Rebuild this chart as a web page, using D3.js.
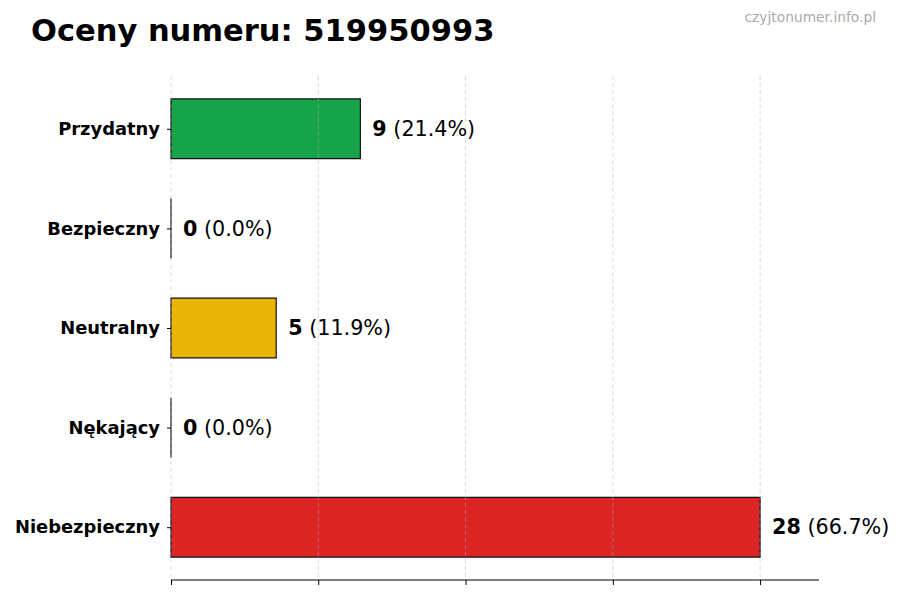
<!DOCTYPE html>
<html>
<head>
<meta charset="utf-8">
<script src="https://cdn.jsdelivr.net/npm/d3@7"></script>
<style>
  body { margin: 0; background: #fff; }
  text { font-family: "DejaVu Sans", sans-serif; }
</style>
</head>
<body>
<svg id="chart" width="900" height="600"></svg>
<script>
// data
const categories = ['Przydatny', 'Bezpieczny', 'Neutralny', 'Nękający', 'Niebezpieczny'];
const counts = [9, 0, 5, 0, 28];
const percents = ['21.4%', '0.0%', '11.9%', '0.0%', '66.7%'];
const colors = ['#16a34a', '#2563eb', '#eab308', '#f97316', '#dc2626'];
const xTicks = [0, 7, 14, 21, 28];

const svg = d3.select('#chart');
const plotL = 171, plotR = 819, plotT = 76, plotB = 580;

const x = d3.scaleLinear().domain([0, 30.8]).range([plotL, plotR]);
// matplotlib-style: bar centres at 0..4, 0.6 high, 5% margin
const y = d3.scaleLinear().domain([-0.53, 4.53]).range([plotT, plotB]);
const barH = y(0.6) - y(0);

svg.append('text')
    .attr('x', 31).attr('y', 41)
    .attr('font-size', 30.5).attr('font-weight', 'bold')
    .text('Oceny numeru: 519950993');

svg.append('text')
    .attr('x', 876).attr('y', 22)
    .attr('text-anchor', 'end')
    .attr('font-size', 13.8).attr('fill', '#aaaaaa')
    .text('czyjtonumer.info.pl');

// bars as paths so zero-width bars still show their edge
svg.selectAll('path.bar')
  .data(counts)
  .enter()
  .append('path')
    .attr('class', 'bar')
    .attr('d', (d, i) => {
      const y0 = y(i) - barH / 2, y1 = y(i) + barH / 2;
      return `M${x(0)},${y0}H${x(d)}V${y1}H${x(0)}Z`;
    })
    .attr('fill', (d, i) => colors[i])
    .attr('stroke', '#111')
    .attr('stroke-width', 1.2);

// grid on top of bars
svg.selectAll('line.grid')
  .data(xTicks)
  .enter()
  .append('line')
    .attr('class', 'grid')
    .attr('x1', d => x(d)).attr('x2', d => x(d))
    .attr('y1', plotT).attr('y2', plotB)
    .attr('stroke', '#b0b0b0')
    .attr('stroke-opacity', 0.6)
    .attr('stroke-dasharray', '4,3')
    .attr('stroke-width', 0.8);

// bottom axis, ticks only
const xAxis = svg.append('g')
    .attr('transform', `translate(0,${plotB})`)
    .call(d3.axisBottom(x).tickValues(xTicks).tickSize(5).tickFormat(''));
xAxis.select('.domain').attr('d', `M${plotL},0H${plotR}`).attr('stroke', '#000');

// left ticks + labels
const yAxis = svg.append('g')
    .attr('transform', `translate(${plotL},0)`)
    .call(d3.axisLeft(y).tickValues(d3.range(categories.length)).tickSize(4).tickPadding(7)
      .tickFormat(i => categories[i]));
yAxis.select('.domain').remove();
yAxis.selectAll('text')
    .attr('font-size', 17.9).attr('font-weight', 'bold')
    .attr('fill', '#000')
    .style('font-family', '"DejaVu Sans", sans-serif');

// value labels
const lab = svg.selectAll('text.val')
  .data(counts)
  .enter()
  .append('text')
    .attr('class', 'val')
    .attr('x', d => x(d) + 12)
    .attr('y', (d, i) => y(i))
    .attr('dy', '0.35em')
    .attr('font-size', 20.7);
lab.append('tspan').attr('font-weight', 'bold').text(d => d);
lab.append('tspan').text((d, i) => ` (${percents[i]})`);
</script>
</body>
</html>
